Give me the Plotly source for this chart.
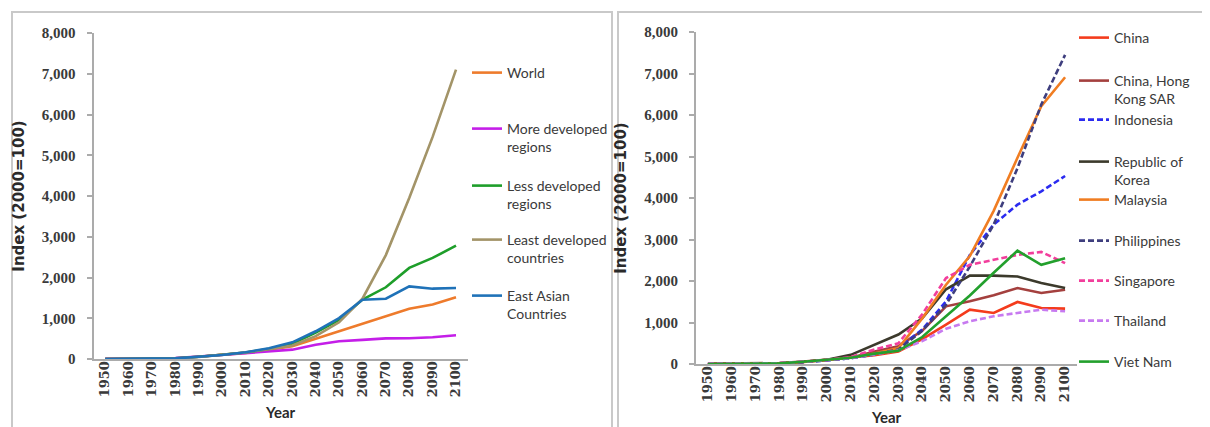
import plotly.graph_objects as go

# ---------------- data ----------------
years = [1950, 1960, 1970, 1980, 1990, 2000, 2010, 2020, 2030, 2040, 2050, 2060, 2070, 2080, 2090, 2100]
year_labels = [str(y) for y in years]
y_ticks = [0, 1000, 2000, 3000, 4000, 5000, 6000, 7000, 8000]

# left panel
world = [2, 4, 8, 20, 57, 100, 150, 230, 311, 495, 680, 865, 1050, 1235, 1335, 1515]
more_developed = [5, 8, 13, 25, 60, 100, 140, 185, 229, 352, 434, 470, 507, 510, 532, 581]
less_developed = [1, 2, 5, 15, 55, 100, 158, 248, 375, 650, 960, 1460, 1760, 2235, 2480, 2780]
least_developed = [1, 2, 4, 12, 50, 100, 160, 240, 330, 560, 900, 1480, 2550, 3950, 5450, 7100]
east_asian = [1, 2, 5, 15, 55, 100, 165, 265, 409, 680, 1005, 1456, 1480, 1783, 1726, 1742]

# right panel
china = [2, 3, 5, 15, 50, 100, 160, 210, 300, 600, 950, 1310, 1230, 1495, 1350, 1335]
hong_kong = [3, 5, 10, 25, 60, 100, 150, 300, 430, 800, 1390, 1510, 1655, 1830, 1710, 1790]
indonesia = [1, 2, 4, 12, 45, 100, 140, 230, 380, 830, 1510, 2630, 3360, 3840, 4160, 4530]
korea = [1, 3, 6, 18, 55, 100, 220, 460, 710, 1100, 1800, 2130, 2130, 2110, 1950, 1830]
malaysia = [1, 2, 5, 15, 50, 100, 150, 250, 385, 1100, 1910, 2600, 3690, 4970, 6210, 6910]
philippines = [1, 2, 4, 12, 45, 100, 140, 230, 350, 800, 1430, 2350, 3360, 4720, 6250, 7450]
singapore = [2, 4, 8, 20, 55, 100, 170, 350, 500, 1200, 2070, 2390, 2510, 2630, 2700, 2430]
thailand = [2, 4, 8, 20, 55, 100, 140, 230, 330, 550, 850, 1030, 1150, 1230, 1310, 1270]
viet_nam = [1, 2, 5, 15, 55, 100, 150, 250, 320, 650, 1150, 1650, 2200, 2730, 2390, 2550]

left_names = ["World", "More developed<br>regions", "Less developed<br>regions",
              "Least developed<br>countries", "East Asian<br>Countries"]
right_names = ["China", "China, Hong<br>Kong SAR", "Indonesia", "Republic of<br>Korea",
               "Malaysia", "Philippines", "Singapore", "Thailand", "Viet Nam"]

# ---------------- styling / layout ----------------
W, H = 1210, 427


def fx(p):
    return p / W


def fy(p):
    return 1 - p / H


left_values = [world, more_developed, less_developed, least_developed, east_asian]
left_colors = ["#EE7B2C", "#C41EE8", "#1E9E2A", "#A39468", "#1F72B8"]
left_dash = ["solid"] * 5
left_leg_y = [73, 129, 186, 240, 296]

right_values = [china, hong_kong, indonesia, korea, malaysia, philippines, singapore, thailand, viet_nam]
right_colors = ["#F43B1C", "#A4403E", "#2B2BF0", "#3C3A2C", "#F07D22", "#3E3E7E", "#F23E9C", "#C77AF0", "#23A02D"]
right_dash = ["solid", "solid", "6px,3px", "solid", "solid", "6px,3px", "6px,3px", "6px,3px", "solid"]
right_leg_y = [38, 81, 120, 162, 200, 241, 281, 321, 362]

LEG_FONT = dict(family="Lato, Roboto, sans-serif", size=14, color="#3a3a3a")

fig = go.Figure()
layout_legends = {}
leg_idx = 0


def add_series(names, values, colors, dashes, leg_ys, line_x, xa, ya):
    global leg_idx
    for name, vals, col, dsh, ly in zip(names, values, colors, dashes, leg_ys):
        leg_idx += 1
        lid = "legend" if leg_idx == 1 else f"legend{leg_idx}"
        fig.add_trace(go.Scatter(
            x=years, y=vals, name=name, mode="lines",
            line=dict(color=col, width=2.6, dash=dsh),
            xaxis=xa, yaxis=ya, legend=lid, showlegend=True,
        ))
        layout_legends[lid] = dict(
            x=fx(line_x - 12), y=fy(ly - 24), xanchor="left", yanchor="top",
            xref="paper", yref="paper", valign="top",
            bgcolor="rgba(0,0,0,0)", borderwidth=0, font=LEG_FONT,
        )


add_series(left_names, left_values, left_colors, left_dash, left_leg_y, 471, "x", "y")
add_series(right_names, right_values, right_colors, right_dash, right_leg_y, 1078, "x2", "y2")

AX_GRAY = "#ababab"
TICK_FONT_Y = dict(family="Liberation Serif, Times New Roman, serif", size=15, color="#3a3a3a", weight="bold")
TICK_FONT_X = dict(family="DejaVu Serif, serif", size=13, color="#3a3a3a", weight="bold")
TITLE_FONT_Y = dict(family="DejaVu Sans, Verdana, sans-serif", size=15, color="#2a2a2a", weight="bold")
TITLE_FONT_X = dict(family="Lato, Roboto, sans-serif", size=15, color="#2a2a2a", weight="bold")


def xaxis_cfg(dom):
    return dict(domain=dom, range=[1945, 2105], tickvals=years, ticktext=year_labels,
                tickangle=-90, tickfont=TICK_FONT_X, showline=True, linecolor=AX_GRAY, linewidth=1.8,
                ticks="", showgrid=False, zeroline=False, automargin=False, ticklabelstandoff=-5,
                title=dict(text="Year", font=TITLE_FONT_X, standoff=11), fixedrange=True)


def yaxis_cfg(dom, anchor):
    return dict(domain=dom, range=[0, 8000], tickvals=y_ticks, tickformat=",", tickfont=TICK_FONT_Y,
                showline=True, linecolor=AX_GRAY, linewidth=1.8, ticks="outside", ticklen=5,
                tickcolor=AX_GRAY, tickwidth=1.5, showgrid=False, zeroline=False, automargin=False,
                ticklabelstandoff=8, anchor=anchor,
                title=dict(text="Index (2000=100)", font=TITLE_FONT_Y, standoff=14), fixedrange=True)


fig.update_layout(
    width=W, height=H, margin=dict(l=0, r=0, t=0, b=0),
    paper_bgcolor="white", plot_bgcolor="white", template="none",
    xaxis=xaxis_cfg([fx(85.5), fx(459.7)]) | dict(anchor="y"),
    yaxis=yaxis_cfg([fy(351), fy(25)], "x"),
    xaxis2=xaxis_cfg([fx(688), fx(1069)]) | dict(anchor="y2"),
    yaxis2=yaxis_cfg([fy(356), fy(24)], "x2"),
    shapes=[
        dict(type="rect", xref="paper", yref="paper", x0=fx(4), x1=fx(604), y0=fy(440), y1=fy(4),
             line=dict(color="#c9c9c9", width=2), fillcolor="rgba(0,0,0,0)", layer="below"),
        dict(type="rect", xref="paper", yref="paper", x0=fx(610), x1=fx(1207), y0=fy(440), y1=fy(4),
             line=dict(color="#c9c9c9", width=2), fillcolor="rgba(0,0,0,0)", layer="below"),
    ],
    **layout_legends,
)

fig.write_html("out.html")
